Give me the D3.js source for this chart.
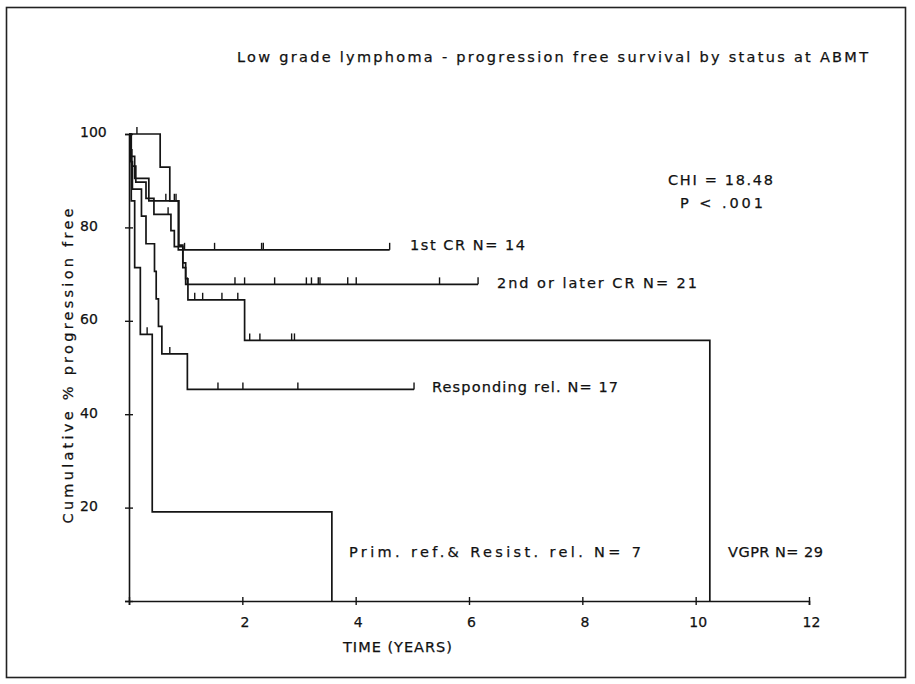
<!DOCTYPE html>
<html><head><meta charset="utf-8">
<script src="https://cdn.jsdelivr.net/npm/d3@7"></script>
<style>
body{margin:0;background:#fff}
svg{display:block}
text{font-family:"DejaVu Sans",sans-serif;fill:#111;stroke:#111;stroke-width:0.25px}
</style>
</head><body>
<svg id="chart" width="915" height="684"></svg>
<script>
// ---- data ----
const titleText = "Low grade lymphoma - progression free survival by status at ABMT";
const xTickValues = [0, 2, 4, 6, 8, 10, 12];
const xTickLabels = ["", "2", "4", "6", "8", "10", "12"];
const yTickValues = [0, 20, 40, 60, 80, 100];
const yTickLabels = ["", "20", "40", "60", "80", "100"];
const seriesNames = ["1st CR N= 14", "2nd or later CR N= 21", "Responding rel. N= 17", "Prim. ref.& Resist. rel. N= 7", "VGPR N= 29"];

// 1st CR
const cr1Times = [0, 0.55, 0.72, 0.87];
const cr1Surv  = [100, 92.9, 85.7, 75.2];
const cr1End = 4.6;
const cr1Censor = [0.14, 0.8, 0.98, 1.51, 2.34, 2.37, 4.6];
// 2nd or later CR
const cr2Times = [0, 0.03, 0.1, 0.35, 0.88, 0.95, 1.0];
const cr2Surv  = [100, 95.2, 90.5, 85.7, 76.2, 71.4, 67.8];
const cr2End = 6.16;
const cr2Censor = [0.65, 0.83, 1.03, 1.87, 2.04, 2.57, 3.13, 3.22, 3.34, 3.37, 3.86, 4.01, 5.48, 6.16];
// VGPR
const vgprTimes = [0, 0.02, 0.05, 0.12, 0.3, 0.44, 0.74, 0.8, 0.95, 1.0, 1.04, 2.04, 10.25];
const vgprSurv  = [100, 96.6, 93.1, 89.7, 86.2, 82.8, 79.3, 75.9, 72.4, 69.0, 64.5, 55.8, 0];
const vgprEnd = 10.25;
const vgprCensor = [0.69, 1.16, 1.30, 1.64, 1.92, 2.13, 2.31, 2.87, 2.92];
// Responding relapse
const respTimes = [0, 0.02, 0.06, 0.22, 0.3, 0.45, 0.48, 0.52, 0.58, 1.03];
const respSurv  = [100, 94.1, 88.2, 82.4, 76.5, 70.6, 64.7, 58.8, 52.9, 45.3];
const respEnd = 5.03;
const respCensor = [0.72, 1.57, 2.01, 2.98, 5.03];
// Primary refractory & resistant relapse
const primTimes = [0, 0.04, 0.1, 0.2, 0.41, 3.58];
const primSurv  = [100, 85.7, 71.4, 57.1, 19.1, 0];
const primEnd = 3.58;
const primCensor = [0.32];

const chiText = "CHI = 18.48";
const pText = "P < .001";
const xTitle = "TIME (YEARS)";
const yTitle = "Cumulative % progression free";

// ---- drawing ----
const svg = d3.select("#chart");
const ink = "#141414";

svg.append("rect").attr("x", 6.5).attr("y", 7.5).attr("width", 899).attr("height", 670)
  .attr("fill", "none").attr("stroke", "#222").attr("stroke-width", 1.6);

const x = d3.scaleLinear().domain([0, 12]).range([129, 809]);
const y = d3.scaleLinear().domain([0, 100]).range([601, 134]);

// axes
const xAxis = d3.axisBottom(x).tickValues(xTickValues)
  .tickFormat((d, i) => xTickLabels[i]).tickSize(4).tickPadding(12);
const gx = svg.append("g").attr("transform", `translate(0,${y(0)})`).call(xAxis);
gx.select(".domain").attr("stroke", ink).attr("stroke-width", 1.6);
gx.selectAll(".tick line").attr("y1", -4).attr("y2", 4).attr("stroke", ink).attr("stroke-width", 1.4);
gx.selectAll(".tick text").attr("font-size", 14).attr("font-family", "DejaVu Sans").attr("fill", ink).attr("dx", 2);

const yAxis = d3.axisLeft(y).tickValues(yTickValues)
  .tickFormat((d, i) => yTickLabels[i]).tickSize(4).tickPadding(8);
const gy = svg.append("g").attr("transform", `translate(${x(0)},0)`).call(yAxis);
gy.select(".domain").attr("stroke", ink).attr("stroke-width", 1.6);
gy.selectAll(".tick line").attr("x1", -4).attr("x2", 4).attr("stroke", ink).attr("stroke-width", 1.4);
gy.selectAll(".tick text").attr("font-size", 14).attr("font-family", "DejaVu Sans").attr("fill", ink)
  .attr("text-anchor", "start").attr("x", 80 - x(0)).attr("dy", "0.2em");

// curves
const series = [
  {times: cr1Times, surv: cr1Surv, end: cr1End, censor: cr1Censor},
  {times: cr2Times, surv: cr2Surv, end: cr2End, censor: cr2Censor},
  {times: respTimes, surv: respSurv, end: respEnd, censor: respCensor},
  {times: primTimes, surv: primSurv, end: primEnd, censor: primCensor},
  {times: vgprTimes, surv: vgprSurv, end: vgprEnd, censor: vgprCensor}
];
const line = d3.line().x(d => x(d[0])).y(d => y(d[1])).curve(d3.curveStepAfter);

function survAt(s, t) {
  let v = s.surv[0];
  for (let i = 0; i < s.times.length; i++) { if (s.times[i] <= t) v = s.surv[i]; }
  return v;
}

series.forEach(s => {
  const pts = s.times.map((t, i) => [t, s.surv[i]]);
  const last = pts[pts.length - 1];
  if (last[0] < s.end) pts.push([s.end, last[1]]);
  svg.append("path").attr("d", line(pts)).attr("fill", "none")
    .attr("stroke", ink).attr("stroke-width", 1.7);
  svg.append("g").selectAll("line").data(s.censor).join("line")
    .attr("x1", d => x(d)).attr("x2", d => x(d))
    .attr("y1", d => y(survAt(s, d))).attr("y2", d => y(survAt(s, d)) - 7)
    .attr("stroke", ink).attr("stroke-width", 1.4);
});

// texts
function txt(str, xx, yy, len, size) {
  const t = svg.append("text").attr("x", xx).attr("y", yy).attr("font-size", size || 14.5).text(str);
  if (len) t.attr("textLength", len).attr("lengthAdjust", "spacing");
  return t;
}
txt(titleText, 237, 62, 631);
txt(seriesNames[0], 410, 250, 115);
txt(seriesNames[1], 497, 288, 200);
txt(seriesNames[2], 432, 392, 186);
txt(seriesNames[3], 349, 557, 292);
txt(seriesNames[4], 728, 557, 95);
txt(chiText, 668, 185, 105);
txt(pText, 680, 208, 83);
txt(xTitle, 343, 652, 109);
svg.append("text").attr("transform", "translate(73,366) rotate(-90)")
  .attr("text-anchor", "middle").attr("font-size", 14.5)
  .attr("textLength", 315).attr("lengthAdjust", "spacing").text(yTitle);
</script>
</body></html>
